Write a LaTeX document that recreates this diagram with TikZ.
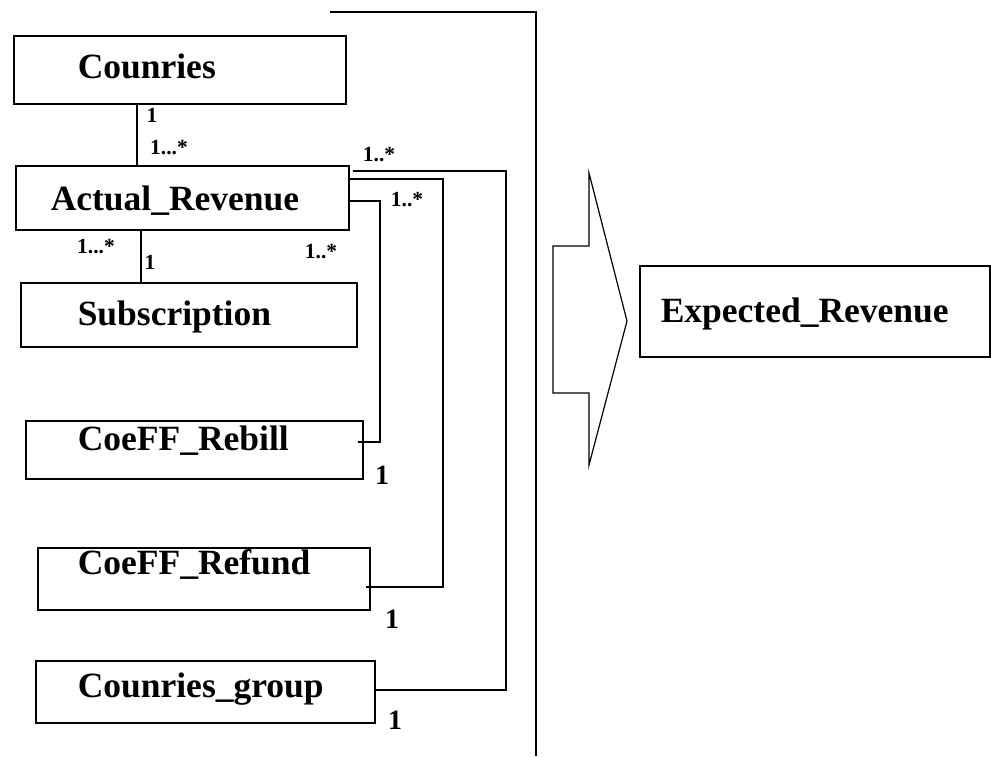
\documentclass[tikz,border=0pt]{standalone}
\usepackage{fontspec}
\setmainfont{Liberation Serif}
\begin{document}
\begin{tikzpicture}[x=1pt,y=-1pt, line width=1.5pt,
  box/.style={draw, rectangle, anchor=north west, inner sep=0pt},
  title/.style={anchor=base west, inner sep=0pt, font=\fontsize{35.5}{40}\selectfont\bfseries},
  mult/.style={inner sep=0pt, font=\fontsize{21.5}{24}\selectfont\bfseries},
  one/.style={inner sep=0pt, font=\fontsize{28}{32}\selectfont\bfseries}]
\useasboundingbox (0,0) rectangle (991,756);

% class boxes
\node[box, minimum width=332pt, minimum height=68pt] (cntr) at (13,35) {};
\node[box, minimum width=333pt, minimum height=64pt] (actual) at (15,165) {};
\node[box, minimum width=336pt, minimum height=64pt] (subs) at (20,282) {};
\node[box, minimum width=337pt, minimum height=58pt] (rebill) at (25,420) {};
\node[box, minimum width=332pt, minimum height=62pt] (refund) at (37,547) {};
\node[box, minimum width=339pt, minimum height=62pt] (cgroup) at (35,660) {};
\node[box, minimum width=350pt, minimum height=91pt] (expected) at (639,265) {};

% class names
\node[title] (cntr-t) at (77,78) {Counries};
\node[title] (actual-t) at (50,210) {Actual\_Revenue};
\node[title] (subs-t) at (77,325) {Subscription};
\node[title] (rebill-t) at (77,450) {CoeFF\_Rebill};
\node[title] (refund-t) at (77,574) {CoeFF\_Refund};
\node[title] (cgroup-t) at (77,697) {Counries\_group};
\node[title] (exp-t) at (660,322) {Expected\_Revenue};

% associations
\draw (cntr.south -| 137,0) -- (actual.north -| 137,0);
\draw (actual.south -| 141,0) -- (subs.north -| 141,0);
\draw (actual.east |- 0,201) -| (380,442) -- (rebill.east |- 0,442) -- ++(-6,0);
\draw (actual.east |- 0,179) -| (443,587) -- (refund.east |- 0,587) -- ++(-5,0);
\draw (actual.east |- 0,171) ++(3,0) -| (506,690) -- (cgroup.east |- 0,690);

% multiplicities
\node[mult] (m1) at (152,115) {1};
\node[mult] (m2) at (169,148) {1...*};
\node[mult] (m3) at (379,155) {1..*};
\node[mult] (m4) at (407,200) {1..*};
\node[mult] (m5) at (96,247) {1...*};
\node[mult] (m6) at (150,262) {1};
\node[mult] (m7) at (321,252) {1..*};
\node[one] (o1) at (382,475) {1};
\node[one] (o2) at (392,619) {1};
\node[one] (o3) at (395,720) {1};

% enclosing frame line
\coordinate (ftop) at (330,12);
\coordinate (fbot) at (536,756);
\draw (ftop) -| (fbot);

% block arrow
\draw[line width=1.2pt] (553,246) -- (589,246) -- (589,173) -- (627,321)
  -- (589,465) -- (589,393) -- (553,393) -- cycle;
\end{tikzpicture}
\end{document}
